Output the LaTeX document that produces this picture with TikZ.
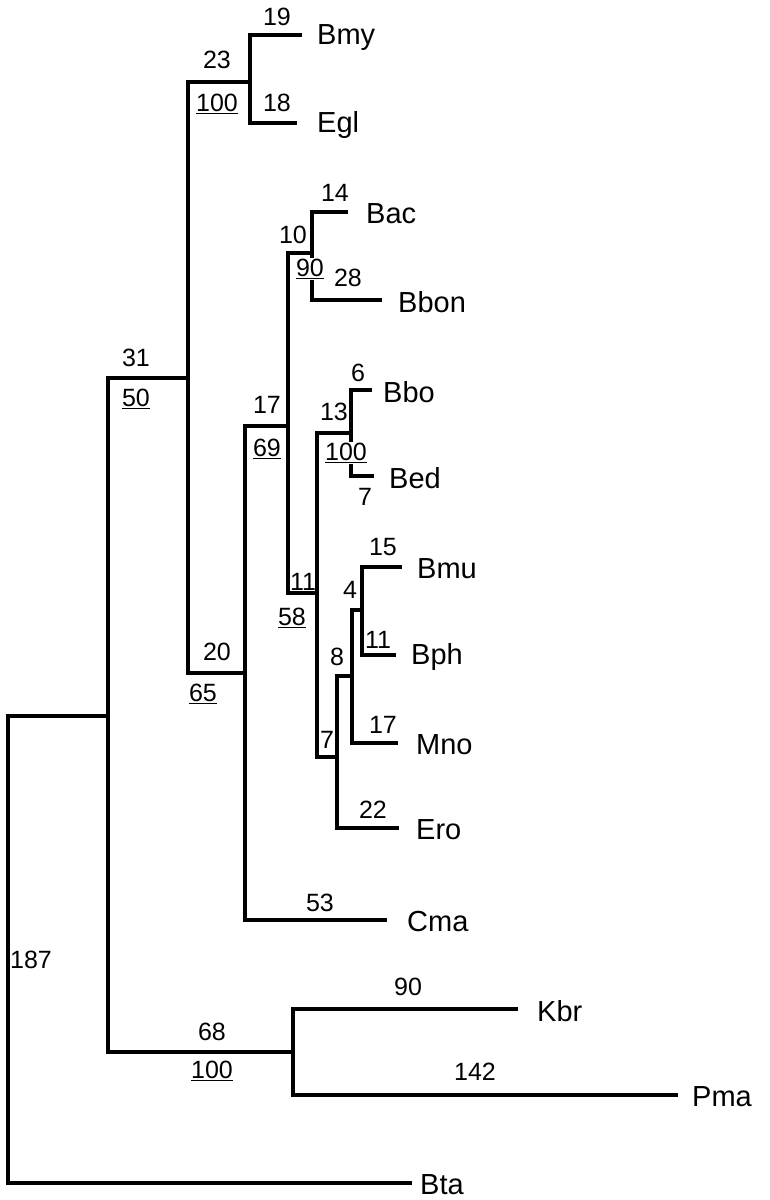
\documentclass[tikz,border=0pt]{standalone}
\usepackage{fontspec}
\setmainfont{Liberation Sans}
\begin{document}
\begin{tikzpicture}[x=1pt,y=-1pt,
  branch/.style={line width=3.6pt,line join=miter,line cap=butt},
  leaf/.style={anchor=west,inner sep=0pt,font=\fontsize{29}{29}\selectfont},
  num/.style={inner sep=0pt,font=\fontsize{25}{25}\selectfont},
  boot/.style={num,fill=white,inner sep=1pt}]
\useasboundingbox (0,0) rectangle (769,1200);
% internal nodes (x, attach y)
\coordinate (R) at (8,716);
\coordinate (A108) at (108,716);
\coordinate (A188) at (188,378);
\coordinate (A250) at (250,82);
\coordinate (A245) at (245,673);
\coordinate (A288) at (288,426);
\coordinate (A312) at (312,253);
\coordinate (A317) at (317,593);
\coordinate (A351) at (351,433);
\coordinate (A337) at (337,757);
\coordinate (A352) at (352,676);
\coordinate (A362) at (362,610);
\coordinate (A293) at (293,1052);
% leaf tips
\coordinate (tBmy) at (302,35);
\coordinate (tEgl) at (297,123);
\coordinate (tBac) at (348,212);
\coordinate (tBbon) at (382,300);
\coordinate (tBbo) at (372,390);
\coordinate (tBed) at (374,476);
\coordinate (tBmu) at (402,567);
\coordinate (tBph) at (396,655);
\coordinate (tMno) at (398,743);
\coordinate (tEro) at (399,828);
\coordinate (tCma) at (387,920);
\coordinate (tKbr) at (518,1009);
\coordinate (tPma) at (678,1095);
\coordinate (tBta) at (412,1183);
% branches: each internal node drawn as one elbow path joining its two children
\draw[branch] (A108) -- (R) |- (tBta);
\draw[branch] (A188) -| (A108) |- (A293);
\draw[branch] (A250) -| (A188) |- (A245);
\draw[branch] (tBmy) -| (A250) |- (tEgl);
\draw[branch] (A288) -| (A245) |- (tCma);
\draw[branch] (A312) -| (A288) |- (A317);
\draw[branch] (tBac) -| (A312) |- (tBbon);
\draw[branch] (A351) -| (A317) |- (A337);
\draw[branch] (tBbo) -| (A351) |- (tBed);
\draw[branch] (A352) -| (A337) |- (tEro);
\draw[branch] (A362) -| (A352) |- (tMno);
\draw[branch] (tBmu) -| (A362) |- (tBph);
\draw[branch] (tKbr) -| (A293) |- (tPma);
% leaf labels
\node[leaf] (Bmy) at (317,38) {Bmy};
\node[leaf] (Egl) at (317,125) {Egl};
\node[leaf] (Bac) at (366,214) {Bac};
\node[leaf] (Bbon) at (398,302) {Bbon};
\node[leaf] (Bbo) at (383,392) {Bbo};
\node[leaf] (Bed) at (389,478) {Bed};
\node[leaf] (Bmu) at (417,569) {Bmu};
\node[leaf] (Bph) at (411,657) {Bph};
\node[leaf] (Mno) at (416,745) {Mno};
\node[leaf] (Ero) at (416,830) {Ero};
\node[leaf] (Cma) at (407,922) {Cma};
\node[leaf] (Kbr) at (537,1011) {Kbr};
\node[leaf] (Pma) at (692,1097) {Pma};
\node[leaf] (Bta) at (420,1185) {Bta};
% branch lengths
\node[num] (l19) at (277,17) {19};
\node[num] (l18) at (277,103) {18};
\node[num] (l23) at (217,60) {23};
\node[num] (l14) at (335,193) {14};
\node[num] (l28) at (348,278) {28};
\node[num] (l10) at (293,235) {10};
\node[num] (l31) at (136,358) {31};
\node[num] (l6) at (358,373) {6};
\node[num] (l13) at (334,412) {13};
\node[num] (l7a) at (365,497) {7};
\node[num] (l17a) at (267,405) {17};
\node[num] (l15) at (383,547) {15};
\node[num] (l4) at (350,590) {4};
\node[num] (l11a) at (378,640) {11};
\node[num] (l11b) at (303,582) {11};
\node[num] (l8) at (337,657) {8};
\node[num] (l17b) at (383,725) {17};
\node[num] (l7b) at (327,740) {7};
\node[num] (l22) at (373,810) {22};
\node[num] (l20) at (217,652) {20};
\node[num] (l53) at (320,903) {53};
\node[num] (l187) at (31,960) {187};
\node[num] (l90) at (408,987) {90};
\node[num] (l68) at (212,1032) {68};
\node[num] (l142) at (475,1072) {142};
% bootstrap values
\node[boot] (b100a) at (217,104) {\underline{100}};
\node[boot] (b90) at (310,269) {\underline{90}};
\node[boot] (b50) at (136,399) {\underline{50}};
\node[boot] (b100b) at (346,453) {\underline{100}};
\node[boot] (b69) at (267,449) {\underline{69}};
\node[boot] (b58) at (292,618) {\underline{58}};
\node[boot] (b65) at (203,694) {\underline{65}};
\node[boot] (b100c) at (212,1071) {\underline{100}};
\end{tikzpicture}
\end{document}
